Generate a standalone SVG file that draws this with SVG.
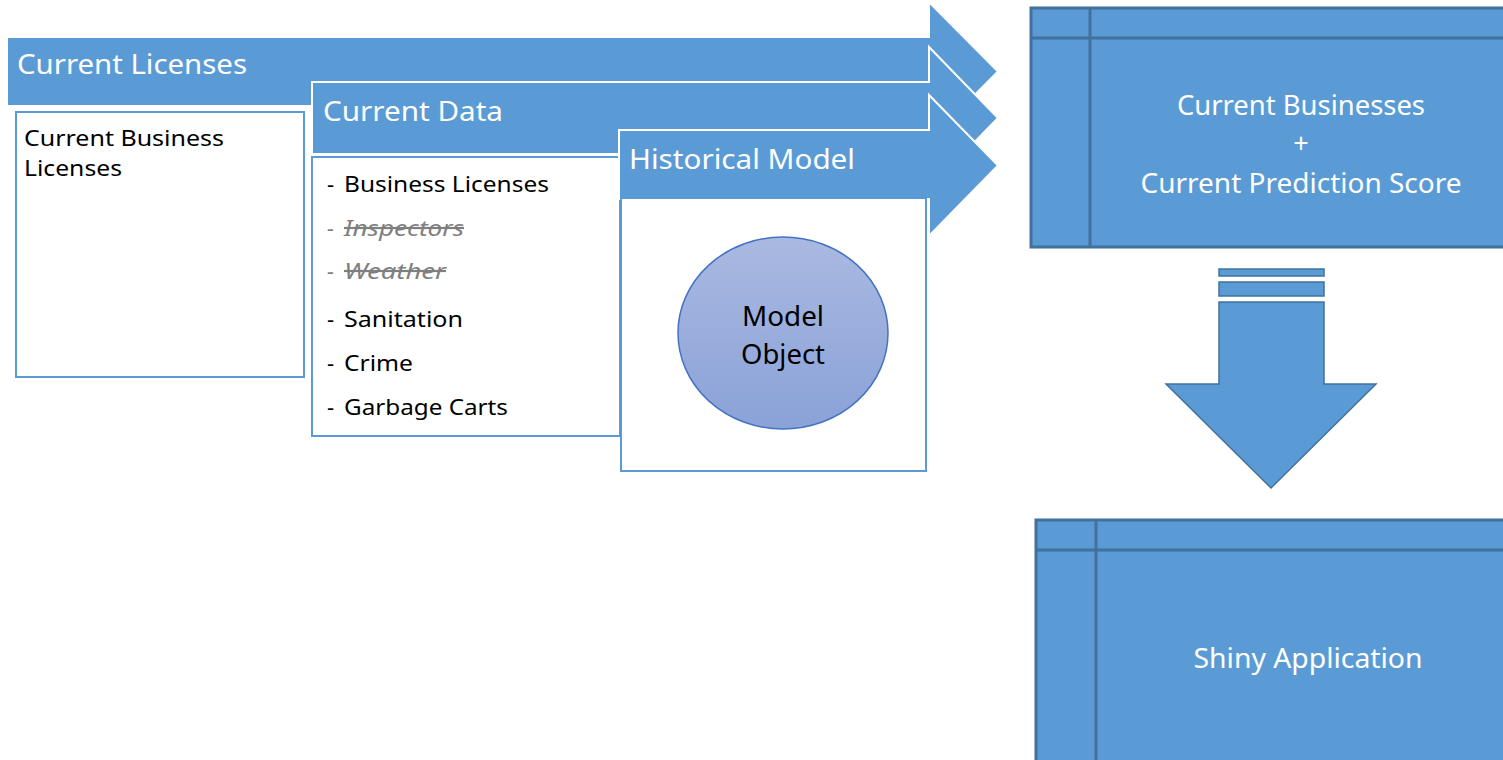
<svg xmlns="http://www.w3.org/2000/svg" width="1503" height="760" viewBox="0 0 1503 760">
  <style>
    .band { fill: #5B9BD5; stroke: #FFFFFF; stroke-width: 2; stroke-linejoin: miter; }
    .panel { fill: #FFFFFF; stroke: #5B9BD5; stroke-width: 2; }
    .block { fill: #5B9BD5; stroke: #41719C; stroke-width: 3; }
    .grid { stroke: #41719C; stroke-width: 3; fill: none; }
    .head { font-family: "Noto Sans", "Open Sans", "DejaVu Sans", sans-serif; font-size: 28px; fill: #FFFFFF; }
    .body { font-family: "Noto Sans", "Open Sans", "DejaVu Sans", sans-serif; font-size: 22px; fill: #000000; }
    .gone { font-family: "Noto Sans", "Open Sans", "DejaVu Sans", sans-serif; font-size: 22px; fill: #7F7F7F; font-style: italic; }
    .white { font-family: "Noto Sans", "Open Sans", "DejaVu Sans", sans-serif; font-size: 27px; fill: #FFFFFF; text-anchor: middle; }
    .dark { font-family: "Noto Sans", "Open Sans", "DejaVu Sans", sans-serif; font-size: 28px; fill: #000000; text-anchor: middle; }
  </style>
  <defs>
    <linearGradient id="orb" x1="0" y1="0" x2="0" y2="1">
      <stop offset="0" stop-color="#AAB9E1"/>
      <stop offset="1" stop-color="#8AA2D8"/>
    </linearGradient>
  </defs>

  <rect width="1503" height="760" fill="#FFFFFF"/>

  <!-- Stage 1: current licenses -->
  <g id="current-licenses">
    <path class="band" d="M7,37 H929 V2 L998,71.5 L929,141 V106 H7 Z"/>
    <text class="head" x="17" y="74" textLength="230" lengthAdjust="spacingAndGlyphs">Current Licenses</text>
    <rect class="panel" x="16" y="112" width="288" height="265"/>
    <text class="body" x="24" y="146" textLength="200" lengthAdjust="spacingAndGlyphs">Current Business</text>
    <text class="body" x="24" y="176" textLength="98" lengthAdjust="spacingAndGlyphs">Licenses</text>
  </g>

  <!-- Stage 2: current data -->
  <g id="current-data">
    <path class="band" d="M312,82 H929 V47 L998,118 L929,189 V154 H312 Z"/>
    <text class="head" x="323" y="121" textLength="180" lengthAdjust="spacingAndGlyphs">Current Data</text>
    <rect class="panel" x="312" y="157" width="308" height="279"/>
    <text class="body" x="327" y="192">-</text>
    <text class="body" x="344" y="192" textLength="205" lengthAdjust="spacingAndGlyphs">Business Licenses</text>
    <text class="gone" x="327" y="236">-</text>
    <text class="gone" x="344" y="236" textLength="120" lengthAdjust="spacingAndGlyphs" text-decoration="line-through">Inspectors</text>
    <text class="gone" x="327" y="279">-</text>
    <text class="gone" x="344" y="279" textLength="102" lengthAdjust="spacingAndGlyphs" text-decoration="line-through">Weather</text>
    <text class="body" x="327" y="327">-</text>
    <text class="body" x="344" y="327" textLength="119" lengthAdjust="spacingAndGlyphs">Sanitation</text>
    <text class="body" x="327" y="371">-</text>
    <text class="body" x="344" y="371" textLength="69" lengthAdjust="spacingAndGlyphs">Crime</text>
    <text class="body" x="327" y="415">-</text>
    <text class="body" x="344" y="415" textLength="164" lengthAdjust="spacingAndGlyphs">Garbage Carts</text>
  </g>

  <!-- Stage 3: historical model -->
  <g id="historical-model">
    <path class="band" d="M619,130 H929 V95 L998,165.5 L929,236 V199 H619 Z"/>
    <text class="head" x="629" y="169" textLength="226" lengthAdjust="spacingAndGlyphs">Historical Model</text>
    <rect class="panel" x="621" y="198" width="305" height="273"/>
  </g>

  <g id="model-object">
    <ellipse cx="783" cy="333" rx="105" ry="96" fill="url(#orb)" stroke="#4472C4" stroke-width="1.5"/>
    <text class="dark" x="783" y="326" textLength="82" lengthAdjust="spacingAndGlyphs">Model</text>
    <text class="dark" x="783" y="364" textLength="84" lengthAdjust="spacingAndGlyphs">Object</text>
  </g>

  <!-- Output table -->
  <g id="current-scores">
    <rect class="block" x="1031" y="8" width="480" height="239"/>
    <line class="grid" x1="1031" y1="38" x2="1511" y2="38"/>
    <line class="grid" x1="1090" y1="8" x2="1090" y2="247"/>
    <text class="white" x="1301" y="115" textLength="248" lengthAdjust="spacingAndGlyphs">Current Businesses</text>
    <text class="white" x="1301" y="153">+</text>
    <text class="white" x="1301" y="193" textLength="321" lengthAdjust="spacingAndGlyphs">Current Prediction Score</text>
  </g>

  <!-- Downward flow into the app -->
  <g id="connectors">
    <rect x="1219" y="269" width="105" height="7" fill="#5B9BD5" stroke="#41719C" stroke-width="1.5"/>
    <rect x="1219" y="282" width="105" height="14" fill="#5B9BD5" stroke="#41719C" stroke-width="1.5"/>
    <path d="M1219,302 H1324 V384 H1376 L1271,488 L1166,384 H1219 Z" fill="#5B9BD5" stroke="#41719C" stroke-width="1.5" stroke-linejoin="miter"/>
  </g>

  <!-- Application table -->
  <g id="shiny-application">
    <rect class="block" x="1036" y="520" width="480" height="250"/>
    <line class="grid" x1="1036" y1="550" x2="1516" y2="550"/>
    <line class="grid" x1="1096" y1="520" x2="1096" y2="770"/>
    <text class="white" x="1308" y="668" textLength="229" lengthAdjust="spacingAndGlyphs">Shiny Application</text>
  </g>
</svg>
